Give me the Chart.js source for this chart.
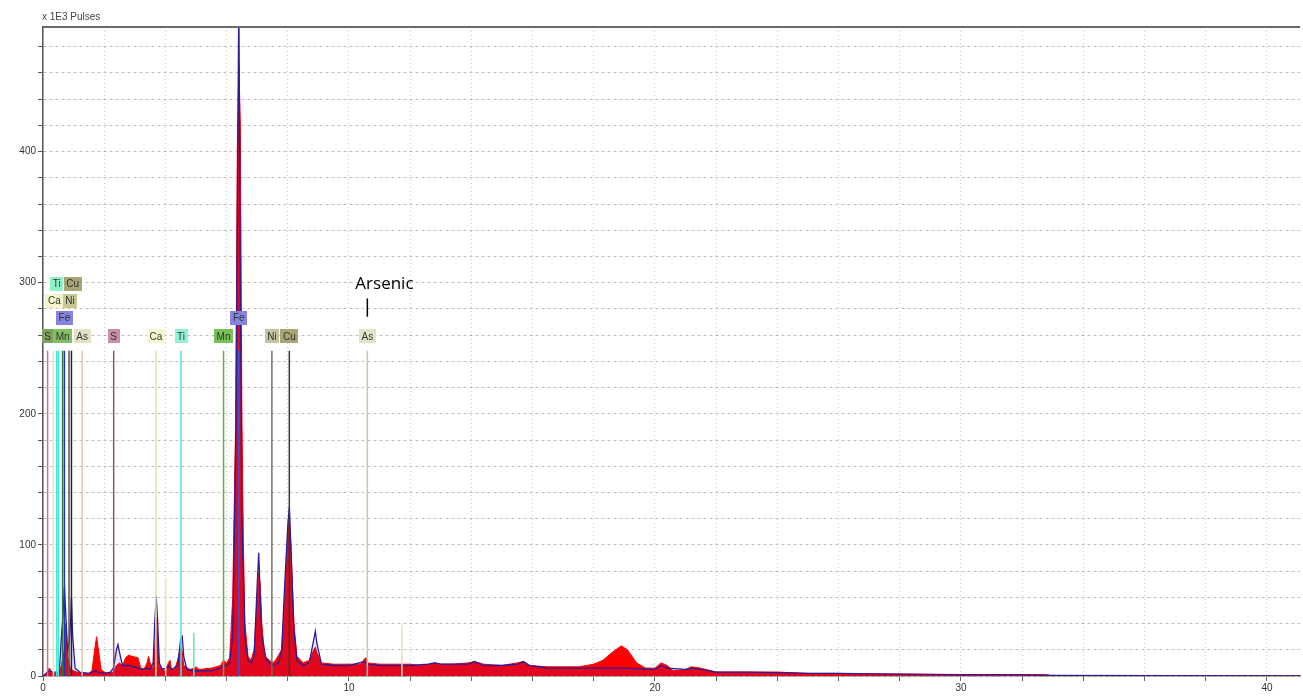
<!DOCTYPE html>
<html>
<head>
<meta charset="utf-8">
<script src="https://cdn.jsdelivr.net/npm/chart.js@4.4.1/dist/chart.umd.min.js"></script>
<style>
  body { margin: 0; background: #fff; }
  #wrap { width: 1303px; height: 700px; }
</style>
</head>
<body>
<div id="wrap"><canvas id="spectrum" width="1303" height="700"></canvas></div>
<script>
// energy in keV, counts in 1E3 pulses
const redEnergy = [0, 0.1, 0.2, 0.3, 0.4, 0.5, 0.6, 0.7, 0.75, 0.8, 0.9, 1.0, 1.1, 1.3, 1.5, 1.6, 1.7, 1.75, 1.8, 1.9, 2.0, 2.1, 2.3, 2.4, 2.5, 2.6, 2.7, 2.8, 2.9, 3.1, 3.2, 3.3, 3.4, 3.45, 3.5, 3.6, 3.65, 3.7, 3.75, 3.8, 3.9, 4.0, 4.1, 4.15, 4.2, 4.3, 4.4, 4.5, 4.55, 4.6, 4.8, 4.95, 5.0, 5.1, 5.5, 5.8, 5.9, 6.0, 6.1, 6.2, 6.3, 6.35, 6.4, 6.45, 6.5, 6.55, 6.6, 6.7, 6.8, 6.9, 7.0, 7.05, 7.1, 7.15, 7.25, 7.4, 7.5, 7.6, 7.8, 7.9, 8.0, 8.05, 8.1, 8.2, 8.3, 8.5, 8.7, 8.85, 8.9, 8.95, 9.1, 9.5, 10.0, 10.4, 10.5, 10.55, 10.6, 11.0, 11.5, 12.0, 12.3, 12.6, 12.8, 13.0, 13.4, 13.9, 14.1, 14.4, 15.0, 15.5, 15.7, 15.9, 16.5, 17.0, 17.5, 18.0, 18.3, 18.6, 18.9, 19.1, 19.4, 19.7, 20.0, 20.2, 20.4, 20.6, 21.0, 21.2, 21.5, 22.0, 23.0, 24.0, 25.0, 26.0, 27.0, 28.0, 29.0, 30.0, 31.0, 32.0, 32.8, 33.0, 41.1];
const redCounts = [0, 2, 6, 3, 2, 3, 8, 20, 40, 15, 5, 4, 3, 2, 2, 4, 22, 30, 22, 5, 3, 2, 3, 8, 10, 8, 14, 16, 15, 14, 6, 5, 10, 15, 10, 6, 20, 44, 30, 8, 5, 4, 10, 12, 5, 5, 12, 22, 18, 8, 5, 6, 7, 5, 6, 8, 12, 10, 14, 60, 200, 400, 466, 420, 200, 100, 40, 15, 12, 20, 60, 79, 70, 40, 15, 12, 10, 12, 20, 60, 110, 120, 100, 40, 15, 10, 12, 20, 22, 18, 10, 9, 9, 9, 13, 14, 10, 9, 9, 9, 8, 9, 10, 9, 9, 10, 11, 9, 8, 10, 11, 8, 7, 7, 7, 9, 12, 18, 23, 20, 10, 6, 6, 10, 8, 4, 5, 7, 6, 3, 3, 3, 2, 2, 1.5, 1.5, 1.2, 1, 1, 1, 1, 0, 0];

const blueEnergy = [0, 0.1, 0.2, 0.3, 0.5, 0.55, 0.6, 0.65, 0.7, 0.75, 0.8, 0.85, 0.9, 0.93, 0.97, 1.05, 1.2, 1.5, 1.7, 1.8, 2.0, 2.2, 2.3, 2.4, 2.45, 2.5, 2.6, 2.8, 3.0, 3.2, 3.4, 3.5, 3.6, 3.65, 3.7, 3.75, 3.8, 3.9, 4.0, 4.1, 4.2, 4.4, 4.5, 4.55, 4.6, 4.7, 4.9, 5.0, 5.5, 5.8, 5.9, 6.0, 6.1, 6.2, 6.3, 6.4, 6.45, 6.5, 6.6, 6.7, 6.8, 6.9, 7.0, 7.05, 7.1, 7.15, 7.3, 7.5, 7.7, 7.8, 7.9, 8.0, 8.05, 8.1, 8.2, 8.3, 8.5, 8.7, 8.85, 8.9, 8.95, 9.1, 9.5, 10.0, 10.5, 10.6, 11.0, 12.0, 12.6, 12.8, 13.0, 13.4, 13.9, 14.1, 14.4, 15.0, 15.5, 15.7, 15.9, 16.5, 17.0, 18.0, 19.0, 20.0, 20.2, 20.4, 21.0, 21.2, 21.5, 22.0, 23.0, 24.0, 25.0, 26.0, 28.0, 30.0, 32.0, 33.0, 41.1];
const blueCounts = [0, 2, 4, 3, 3, 10, 30, 45, 68, 45, 20, 25, 40, 60, 30, 6, 3, 2, 4, 3, 2, 3, 6, 20, 24, 18, 8, 8, 7, 5, 6, 5, 10, 40, 61, 40, 10, 5, 6, 8, 5, 8, 28, 30, 15, 5, 4, 4, 4, 6, 8, 8, 10, 30, 180, 520, 300, 120, 30, 12, 10, 15, 70, 94, 60, 30, 12, 8, 10, 20, 70, 115, 129, 100, 35, 12, 8, 10, 28, 34, 25, 9, 8, 8, 11, 9, 8, 8, 9, 10, 9, 9, 9, 11, 8, 8, 9, 11, 8, 6, 6, 6, 6, 5, 8, 6, 5, 6, 5, 3, 3, 2.5, 2, 2, 1.5, 1, 1, 0.5, 0];

// element marker lines
const lineEnergy = [0.15, 0.34, 0.45, 0.5, 0.64, 0.70, 0.85, 0.93, 1.28, 2.31, 3.69, 4.01, 4.51, 4.93, 5.90, 6.40, 7.48, 8.05, 10.6, 11.73];
const lineHeight = [248, 248, 248, 248, 248, 248, 248, 248, 248, 248, 248, 75, 248, 33, 248, 248, 248, 248, 248, 39];
const lineColors = ['#d070a0', '#e8e8a8', '#40e8e0', '#40e8e0', '#2f7a3a', '#2030c0', '#585848', '#25251a', '#dcc8b8', '#905070', '#e6e69a', '#e6e6a8', '#50e0e0', '#60e4d0', '#60b040', '#4050d0', '#707062', '#3a3a2c', '#c8c8a8', '#e2e2b4'];

// label boxes above the marker lines
const labelText = ['S', 'Mn', 'As', 'S', 'Ca', 'Ti', 'Mn', 'Ni', 'Cu', 'As', 'Fe', 'Fe', 'Ca', 'Ni', 'Ti', 'Cu'];
const labelEnergy = [0.15, 0.64, 1.28, 2.31, 3.69, 4.51, 5.90, 7.48, 8.05, 10.6, 0.70, 6.40, 0.37, 0.88, 0.45, 0.97];
const labelLevel = [259, 259, 259, 259, 259, 259, 259, 259, 259, 259, 273, 273, 286, 286, 299, 299];
const labelColors = ['#7fa060', '#80c060', '#e2e2c4', '#c890a8', '#f6f6d0', '#90f0d8', '#78c058', '#c4c4a0', '#a8a474', '#e2e2c4', '#8484e0', '#8484e0', '#f4f4cc', '#c8c894', '#90f0c8', '#a8a474'];

const xMax = 41.08;
const yMax = 495;

const datasets = [];
lineEnergy.forEach((e, i) => {
    datasets.push({
        data: [{ x: e, y: 0 }, { x: e, y: lineHeight[i] }],
        borderColor: lineColors[i],
        borderWidth: 1.5,
        pointRadius: 0,
        fill: false,
        order: 0
    });
});
datasets.push({
    data: blueEnergy.map((e, i) => ({ x: e, y: blueCounts[i] })),
    borderColor: '#2c1c96',
    backgroundColor: 'rgba(50, 50, 210, 0.14)',
    borderWidth: 1.3,
    pointRadius: 0,
    fill: 'origin',
    order: 1
});
datasets.push({
    data: redEnergy.map((e, i) => ({ x: e, y: redCounts[i] })),
    borderColor: '#ff0000',
    backgroundColor: '#ff0000',
    borderWidth: 1,
    pointRadius: 0,
    fill: 'origin',
    order: 2
});

// labels, annotation, unit text and top frame
const decorations = {
    id: 'decorations',
    afterDatasetsDraw(chart) {
        const ctx = chart.ctx;
        const xs = chart.scales.x, ys = chart.scales.y;
        ctx.save();
        ctx.font = '10px "Liberation Sans", Arial, sans-serif';
        ctx.textAlign = 'center';
        ctx.textBaseline = 'middle';
        labelText.forEach((t, i) => {
            const px = xs.getPixelForValue(labelEnergy[i]);
            const py = ys.getPixelForValue(labelLevel[i]);
            const w = ctx.measureText(t).width + 5;
            ctx.fillStyle = labelColors[i];
            ctx.fillRect(Math.round(px - w / 2), Math.round(py - 7), Math.round(w), 14);
            ctx.fillStyle = '#333';
            ctx.fillText(t, px, py + 0.5);
        });

        // "Arsenic" callout
        const ax = xs.getPixelForValue(10.6);
        ctx.strokeStyle = '#000';
        ctx.lineWidth = 1.5;
        ctx.beginPath();
        ctx.moveTo(ax, ys.getPixelForValue(288));
        ctx.lineTo(ax, ys.getPixelForValue(274));
        ctx.stroke();
        ctx.fillStyle = '#000';
        ctx.font = '17px "Open Sans", sans-serif';
        ctx.textAlign = 'left';
        ctx.fillText('Arsenic', ax - 12, ys.getPixelForValue(299));

        // unit text
        ctx.fillStyle = '#444';
        ctx.font = '10px "Liberation Sans", Arial, sans-serif';
        ctx.fillText('x 1E3 Pulses', chart.chartArea.left - 1, 17);

        // top frame line
        ctx.strokeStyle = '#6a6a6a';
        ctx.lineWidth = 2;
        ctx.beginPath();
        ctx.moveTo(chart.chartArea.left, chart.chartArea.top);
        ctx.lineTo(chart.chartArea.right, chart.chartArea.top);
        ctx.stroke();
        ctx.restore();
    }
};

new Chart(document.getElementById('spectrum').getContext('2d'), {
    type: 'line',
    data: { datasets: datasets },
    plugins: [decorations],
    options: {
        responsive: false,
        animation: false,
        devicePixelRatio: 1,
        elements: { line: { tension: 0 } },
        layout: { padding: { top: 27, right: 3, left: 0, bottom: 0 } },
        plugins: { legend: { display: false }, tooltip: { enabled: false } },
        scales: {
            x: {
                type: 'linear',
                min: 0,
                max: xMax,
                afterFit: s => { s.height = 24; },
                ticks: {
                    stepSize: 2,
                    includeBounds: false,
                    autoSkip: false,
                    maxRotation: 0,
                    padding: 1,
                    color: '#333',
                    font: { size: 10, family: '"Liberation Sans", Arial, sans-serif' },
                    callback: v => (Math.abs(v % 10) < 1e-6 ? String(v) : '')
                },
                grid: { color: 'rgba(0,0,0,0.2)', tickColor: '#666', tickLength: 5 },
                border: { color: '#777', width: 1.5, dash: [1, 3] }
            },
            y: {
                type: 'linear',
                min: 0,
                max: yMax,
                afterFit: s => { s.width = 43; },
                ticks: {
                    stepSize: 20,
                    includeBounds: false,
                    autoSkip: false,
                    padding: 2,
                    color: '#333',
                    font: { size: 10, family: '"Liberation Sans", Arial, sans-serif' },
                    callback: v => (Math.abs(v % 100) < 1e-6 ? String(v) : '')
                },
                grid: { color: 'rgba(0,0,0,0.25)', tickColor: '#555', tickLength: 5 },
                border: { color: '#555', width: 1.5, dash: [3, 3] }
            }
        }
    }
});
</script>
</body>
</html>
